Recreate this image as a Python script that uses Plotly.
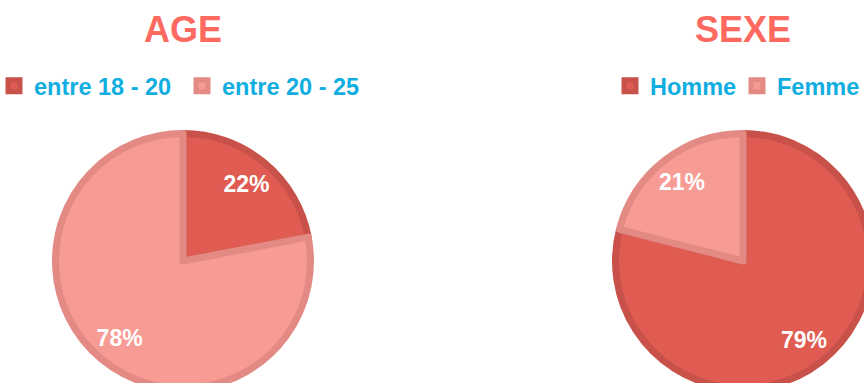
import plotly.graph_objects as go

# Survey breakdowns
age_labels = ["entre 18 - 20", "entre 20 - 25"]
age_values = [22, 78]

sexe_labels = ["Homme", "Femme"]
sexe_values = [79, 21]

titles = ["AGE", "SEXE"]

fill_colors = ["#E05B51", "#F79B95"]
line_colors = ["#C8524A", "#E48A85"]
clear = ["rgba(0,0,0,0)", "rgba(0,0,0,0)"]

W, H = 880, 395          # canvas is larger than the viewport so the pies run off the edges
R = 127.5                # pie radius in px
centers = [(183, 261), (743, 261)]
LINE_W = 7
LABEL_HOLE = 0.56        # transparent donut on top keeps the % labels out near the rim

FONT = "Liberation Sans, Arial"


def domain_for(cx, cy):
    return dict(
        x=[(cx - R) / W, (cx + R) / W],
        y=[1 - (cy + R) / H, 1 - (cy - R) / H],
    )


fig = go.Figure()

for i, (labels, values, legend_name) in enumerate(
    [(age_labels, age_values, "legend"), (sexe_labels, sexe_values, "legend2")]
):
    cx, cy = centers[i]
    dom = domain_for(cx, cy)
    # filled pie with its borders
    fig.add_trace(
        go.Pie(
            labels=labels,
            values=values,
            sort=False,
            direction="clockwise",
            rotation=0,
            domain=dom,
            marker=dict(colors=fill_colors, line=dict(color=line_colors, width=LINE_W)),
            textinfo="none",
            hoverinfo="skip",
            legend=legend_name,
            showlegend=True,
        )
    )
    # percentage labels
    fig.add_trace(
        go.Pie(
            labels=labels,
            values=values,
            sort=False,
            direction="clockwise",
            rotation=0,
            domain=dom,
            hole=LABEL_HOLE,
            marker=dict(colors=clear, line=dict(color=clear, width=0)),
            texttemplate="%{percent:.0%}",
            textposition="inside",
            insidetextorientation="horizontal",
            textfont=dict(family=FONT, size=23, color="white", weight="bold"),
            hoverinfo="skip",
            showlegend=False,
        )
    )

for i, t in enumerate(titles):
    cx, _ = centers[i]
    fig.add_annotation(
        text=t,
        x=cx / W,
        y=1 - 30 / H,
        xref="paper",
        yref="paper",
        xanchor="center",
        yanchor="middle",
        showarrow=False,
        font=dict(family=FONT, size=36, color="#FF6A60", weight="bold"),
    )

legend_font = dict(family=FONT, size=23.5, color="#10AEE0", weight="bold")

fig.update_layout(
    width=W,
    height=H,
    margin=dict(l=0, r=0, t=0, b=0, autoexpand=False),
    paper_bgcolor="white",
    plot_bgcolor="white",
    legend=dict(
        orientation="h",
        x=-6 / W,
        y=1 - 86 / H,
        xanchor="left",
        yanchor="middle",
        font=legend_font,
        entrywidth=143,
        bgcolor="rgba(0,0,0,0)",
    ),
    legend2=dict(
        orientation="h",
        x=610 / W,
        y=1 - 86 / H,
        xanchor="left",
        yanchor="middle",
        font=legend_font,
        entrywidth=82,
        bgcolor="rgba(0,0,0,0)",
    ),
)

fig.write_html(
    "out.html",
    config={"displayModeBar": False},
    post_script=(
        "document.body.style.margin='0';"
        "document.body.style.overflow='hidden';"
        "document.documentElement.style.overflow='hidden';"
    ),
)
